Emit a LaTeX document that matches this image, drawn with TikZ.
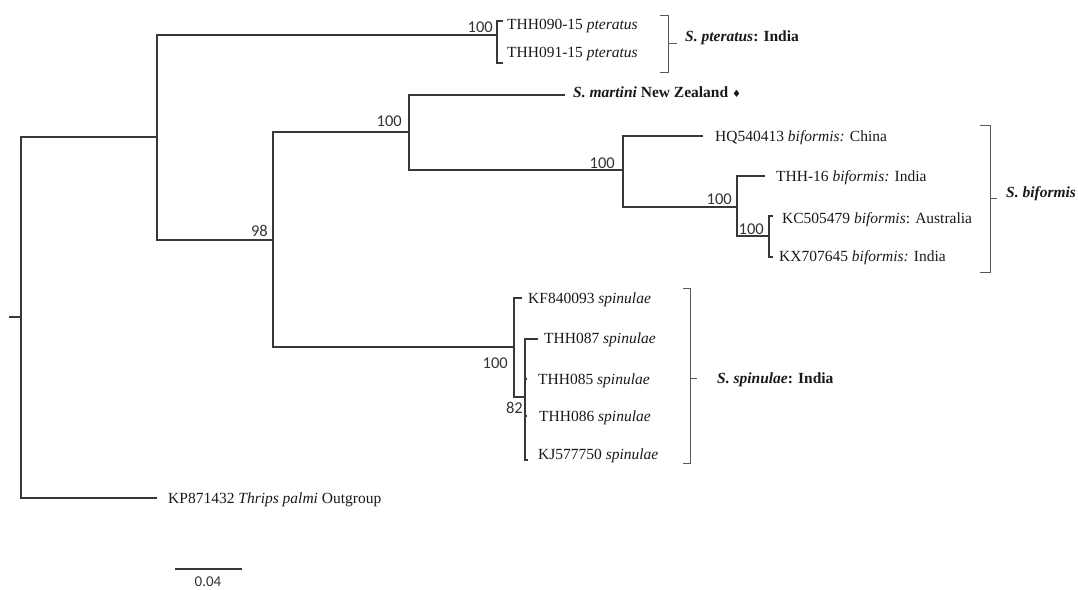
\documentclass[tikz,border=0pt]{standalone}
\usepackage{fontspec}
\setmainfont{Liberation Serif}
\newfontfamily\bsfont{Carlito}
\newfontfamily\symfont{DejaVu Sans}
\begin{document}
\begin{tikzpicture}[x=1pt,y=-1pt,
  branch/.style={draw=black!78, line width=1.5pt},
  brk/.style={draw=black!65, line width=1pt},
  tip/.style={anchor=base west, inner sep=0pt, font=\fontsize{15.5}{18}\selectfont, text=black!90},
  boot/.style={anchor=base east, inner sep=0pt, font=\bsfont\fontsize{16.5}{18}\selectfont, text=black!80},
]
\useasboundingbox (0,0) rectangle (1078,589);

% tree nodes
\coordinate (R) at (21,317);
\coordinate (stub) at (9,317);
\coordinate (A) at (157,137);
\coordinate (P) at (497,35);
\coordinate (p1) at (503,21);
\coordinate (p2) at (503,63);
\coordinate (C) at (273,240);
\coordinate (B) at (409,132);
\coordinate (mart) at (565,95);
\coordinate (D) at (623,170);
\coordinate (hq) at (703,136);
\coordinate (E) at (737,207);
\coordinate (t16) at (765,176);
\coordinate (F) at (769,236);
\coordinate (kc) at (773,216);
\coordinate (kx) at (773,257);
\coordinate (G) at (514,347);
\coordinate (kf) at (522,298);
\coordinate (H) at (525,397);
\coordinate (t087) at (538,339);
\coordinate (t085) at (527,379);
\coordinate (t086) at (527,416);
\coordinate (kj) at (528,460);
\coordinate (out) at (157,498);

% branches
\draw[branch] (stub) -- (R);
\draw[branch] (A) -| (R);
\draw[branch] (out) -| (R);
\draw[branch] (P) -| (A);
\draw[branch] (C) -| (A);
\draw[branch] (p1) -| (P);
\draw[branch] (p2) -| (P);
\draw[branch] (B) -| (C);
\draw[branch] (G) -| (C);
\draw[branch] (mart) -| (B);
\draw[branch] (D) -| (B);
\draw[branch] (hq) -| (D);
\draw[branch] (E) -| (D);
\draw[branch] (t16) -| (E);
\draw[branch] (F) -| (E);
\draw[branch] (kc) -| (F);
\draw[branch] (kx) -| (F);
\draw[branch] (kf) -| (G);
\draw[branch] (H) -| (G);
\draw[branch] (t087) -| (H);
\draw[branch] (t085) -| (H);
\draw[branch] (t086) -| (H);
\draw[branch] (kj) -| (H);

% bootstrap values
\node[boot] (bP) at (493,32) {100};
\node[boot] (bB) at (402,126) {100};
\node[boot] (bC) at (268,236) {98};
\node[boot] (bD) at (615,168) {100};
\node[boot] (bE) at (732,204) {100};
\node[boot] (bF) at (764,234) {100};
\node[boot] (bG) at (508,368) {100};
\node[boot] (bH) at (523,413) {82};

% tip labels
\node[tip] (lp1) at (507,29) {THH090-15 \textit{pteratus}};
\node[tip] (lp2) at (507,57) {THH091-15 \textit{pteratus}};
\node[tip] (lmart) at (573,97) {\textbf{\textit{S. martini} New Zealand} {\symfont\fontsize{10}{12}\selectfont ♦}};
\node[tip] (lhq) at (715,141) {HQ540413 \textit{biformis:} China};
\node[tip] (l16) at (776,181) {THH-16 \textit{biformis:} India};
\node[tip] (lkc) at (782,223) {KC505479 \textit{biformis}: Australia};
\node[tip] (lkx) at (779,261) {KX707645 \textit{biformis:} India};
\node[tip] (lkf) at (528,303) {KF840093 \textit{spinulae}};
\node[tip] (l087) at (544,343) {THH087 \textit{spinulae}};
\node[tip] (l085) at (538,384) {THH085 \textit{spinulae}};
\node[tip] (l086) at (539,421) {THH086 \textit{spinulae}};
\node[tip] (lkj) at (538,459) {KJ577750 \textit{spinulae}};
\node[tip] (lout) at (168,503) {KP871432 \textit{Thrips palmi} Outgroup};

% group brackets
\draw[brk] (660,15) -- (668,15) -- (668,72) -- (660,72);
\draw[brk] (668,43) -- (677,43);
\node[tip] (gp) at (685,41) {\textbf{\textit{S. pteratus}: India}};
\draw[brk] (980,125) -- (990,125) -- (990,272) -- (980,272);
\draw[brk] (990,198) -- (997,198);
\node[tip] (gb) at (1006,197) {\textbf{\textit{S. biformis}}};
\draw[brk] (683,288) -- (690,288) -- (690,463) -- (683,463);
\draw[brk] (690,378) -- (697,378);
\node[tip] (gs) at (717,383) {\textbf{\textit{S. spinulae}: India}};

% scale bar
\coordinate (sb1) at (175,569);
\coordinate (sb2) at (242,569);
\draw[branch] (sb1) -- (sb2);
\node[boot, anchor=base, font=\bsfont\fontsize{15}{18}\selectfont] (sbl) at (208,586) {0.04};
\end{tikzpicture}
\end{document}
